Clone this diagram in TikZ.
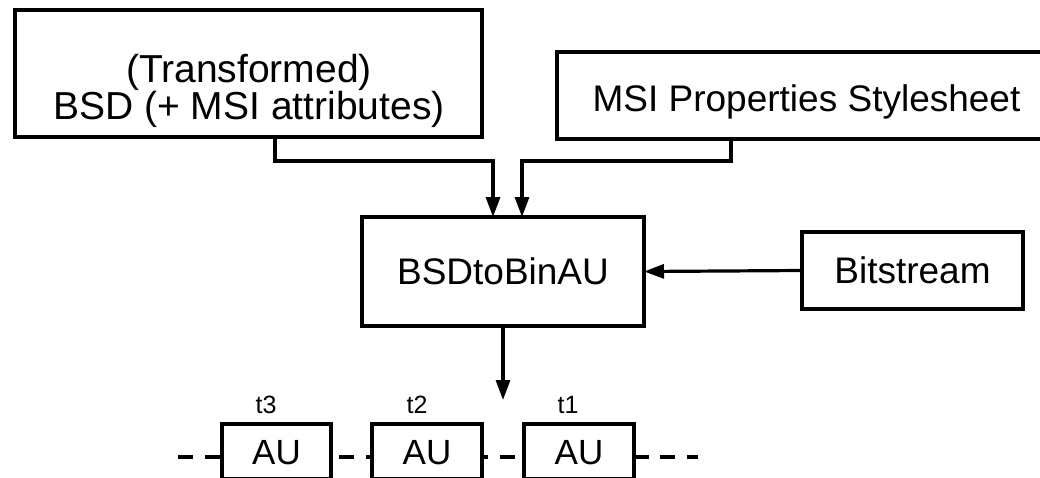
\documentclass[tikz,border=0pt]{standalone}
\usepackage{fontspec}
\setmainfont{Liberation Sans}
\usetikzlibrary{arrows.meta}
\begin{document}
\begin{tikzpicture}[x=1pt,y=-1pt,
  every node/.style={inner sep=0pt,outer sep=0pt},
  block/.style={draw,line width=3.2pt,fill=white,rectangle},
  lbl/.style={font=\fontsize{37}{37}\selectfont,text height=26.5pt,text depth=0pt},
  aubox/.style={block,font=\fontsize{35}{35}\selectfont,text height=25pt,text depth=0pt,
    minimum width=110pt,minimum height=55pt},
  small/.style={font=\fontsize{25}{25}\selectfont,anchor=base},
  conn/.style={line width=3.2pt,-{Triangle[length=20pt,width=14pt]}},
  timeline/.style={line width=3.4pt,dash pattern=on 15pt off 11.8pt}]
\useasboundingbox (0,0) rectangle (1040,477);
\clip (0,0) rectangle (1040,477);

% source documents
\node[block,minimum width=467pt,minimum height=127pt] (box1) at (248.5,73.5) {};
\node[align=center,font=\fontsize{39}{37}\selectfont] (box1text) at (249,91)
  {(Transformed)\\BSD (+ MSI attributes)};
\node[block,lbl,minimum width=499pt,minimum height=87pt,text height=32pt] (msi) at (806.5,95.5)
  {MSI Properties Stylesheet};

% processor and bitstream input
\node[block,lbl,minimum width=282pt,minimum height=109pt] (bsd) at (503,271.5) {BSDtoBinAU};
\node[block,lbl,minimum width=221pt,minimum height=77pt] (bits) at (912.5,270.5) {Bitstream};

% access unit sequence
\coordinate (tl0) at (178,457);
\coordinate (tl1) at (698,457);
\draw[timeline] (tl0) -- (tl1);
\node[aubox,minimum width=109pt] (au3) at (276.5,451.5) {AU};
\node[aubox] (au2) at (427,451.5) {AU};
\node[aubox] (au1) at (579,451.5) {AU};
\node[small] (t3) at (266,413) {t3};
\node[small] (t2) at (417,413) {t2};
\node[small] (t1) at (568,413) {t1};

% connectors
\coordinate (out) at (503,400);
\draw[conn] ([xshift=26.5pt]box1.south) -- ++(0,24) -| ([xshift=-10pt]bsd.north);
\draw[conn] ([xshift=-75.5pt]msi.south) -- ++(0,22) -| ([xshift=19pt]bsd.north);
\draw[conn] (bits.west) -- (bsd.east);
\draw[conn] (bsd.south) -- (out);
\end{tikzpicture}
\end{document}
